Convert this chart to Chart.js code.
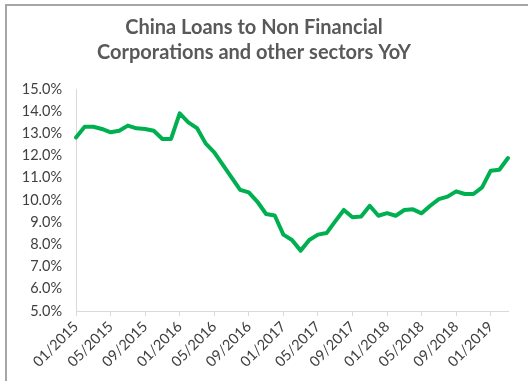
<!DOCTYPE html>
<html>
<head>
<meta charset="utf-8">
<script src="https://cdn.jsdelivr.net/npm/chart.js@4/dist/chart.umd.min.js"></script>
<style>
  html, body { margin: 0; padding: 0; background: #fff; overflow: hidden; }
  #wrap { position: relative; width: 528px; height: 381px; }
  #frame { position: absolute; left: 5px; top: 4px; width: 600px; height: 500px;
           border-left: 2px solid #a6a6a6; border-top: 2px solid #a6a6a6; box-sizing: border-box; }
  canvas { position: absolute; left: 0; top: 0; }
</style>
</head>
<body>
<div id="wrap">
  <div id="frame"></div>
  <canvas id="c" width="528" height="381"></canvas>
</div>
<script>
const titleLines = ['China Loans to Non Financial', 'Corporations and other sectors YoY'];
const months = [
  '01/2015','02/2015','03/2015','04/2015','05/2015','06/2015','07/2015','08/2015','09/2015','10/2015','11/2015','12/2015',
  '01/2016','02/2016','03/2016','04/2016','05/2016','06/2016','07/2016','08/2016','09/2016','10/2016','11/2016','12/2016',
  '01/2017','02/2017','03/2017','04/2017','05/2017','06/2017','07/2017','08/2017','09/2017','10/2017','11/2017','12/2017',
  '01/2018','02/2018','03/2018','04/2018','05/2018','06/2018','07/2018','08/2018','09/2018','10/2018','11/2018','12/2018',
  '01/2019','02/2019','03/2019'
];
const loansYoY = [
  12.82, 13.30, 13.30, 13.20, 13.05, 13.12, 13.35, 13.23, 13.20, 13.12, 12.75, 12.75,
  13.90, 13.50, 13.24, 12.55, 12.15, 11.58, 11.02, 10.46, 10.34, 9.92, 9.37, 9.30,
  8.44, 8.20, 7.72, 8.20, 8.44, 8.51, 9.04, 9.55, 9.22, 9.26, 9.74, 9.29,
  9.41, 9.29, 9.55, 9.58, 9.40, 9.74, 10.04, 10.15, 10.39, 10.27, 10.27, 10.57,
  11.32, 11.36, 11.89
];
const labelEvery = 4;
const yMin = 5, yMax = 15, yStep = 1;

const tickFont = { family: 'Lato', size: 14.5 };

new Chart(document.getElementById('c'), {
  type: 'line',
  data: {
    labels: months,
    datasets: [{
      data: loansYoY,
      borderColor: '#00b050',
      borderWidth: 4,
      pointRadius: 0,
      tension: 0,
      borderJoinStyle: 'round',
      borderCapStyle: 'round',
      fill: false
    }]
  },
  options: {
    responsive: false,
    animation: false,
    devicePixelRatio: 1,
    layout: { padding: { left: 0, right: 20, top: 0, bottom: 0 } },
    plugins: {
      legend: { display: false },
      tooltip: { enabled: false },
      title: {
        display: true,
        text: titleLines,
        color: '#595959',
        font: { family: 'Lato', size: 20, weight: 'bold', lineHeight: 1.25 },
        padding: { top: 15, bottom: 24 }
      }
    },
    scales: {
      x: {
        type: 'category',
        offset: false,
        grid: {
          display: true,
          drawOnChartArea: false,
          drawTicks: true,
          tickLength: 5,
          color: (ctx) => (ctx.index % labelEvery === 0 ? '#d9d9d9' : 'rgba(0,0,0,0)')
        },
        border: { display: true, color: '#d9d9d9', width: 1 },
        ticks: {
          autoSkip: false,
          minRotation: 45,
          maxRotation: 45,
          padding: 2,
          color: '#404040',
          font: tickFont,
          callback: function (v, i) { return i % labelEvery === 0 ? months[i] : ''; }
        },
        afterFit: (s) => { s.height = 70; }
      },
      y: {
        min: yMin,
        max: yMax,
        grid: { display: false, drawTicks: false },
        border: { display: true, color: '#d9d9d9', width: 1 },
        ticks: {
          stepSize: yStep,
          padding: 14,
          color: '#404040',
          font: tickFont,
          callback: (v) => v.toFixed(1) + '%'
        },
        afterFit: (s) => { s.width = 76; }
      }
    }
  }
});
</script>
</body>
</html>
